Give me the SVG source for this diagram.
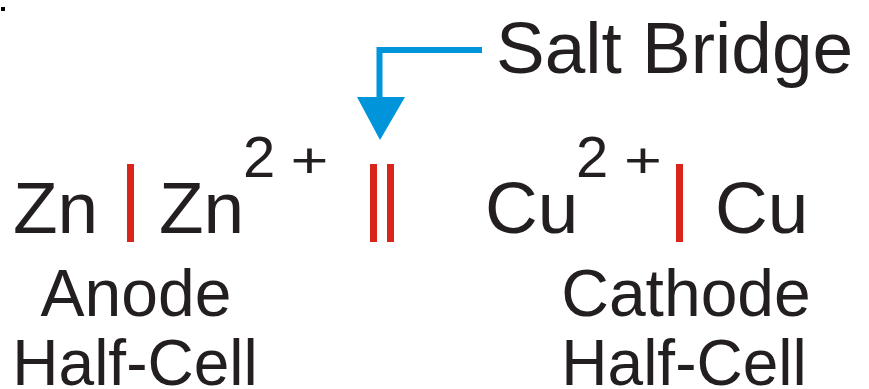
<svg xmlns="http://www.w3.org/2000/svg" width="869" height="389" viewBox="0 0 869 389">
<style>
.t{font-family:"Liberation Sans",Arial,sans-serif;fill:#231f20}
.big{font-size:73px}
.sup{font-size:58px}
.plus{font-size:50px;text-anchor:middle}
.lab{font-size:66px;text-anchor:middle}
.lab2{font-size:64px;text-anchor:middle}
.bar{fill:#da251d}
</style>
<rect x="1" y="7" width="4" height="4" fill="#000"/>
<g id="salt-bridge-label">
<text class="t big" x="496" y="73">Salt Bridge</text>
</g>
<g id="connectors">
<polyline points="482,50 379.5,50 379.5,98" fill="none" stroke="#0095da" stroke-width="6"/>
<polygon points="357,97 405,97 380,140" fill="#0095da"/>
</g>
<g id="anode">
<text class="t big" x="13" y="233">Zn</text>
<rect class="bar" x="127" y="164" width="7" height="78"/>
<text class="t big" x="159" y="233">Zn</text>
<text class="t sup" x="243" y="177">2</text>
<text class="t plus" transform="translate(309.5,176.5) scale(1.3,1)">+</text>
<text class="t lab" x="136" y="316">Anode</text>
<text class="t lab2" x="135" y="385">Half-Cell</text>
</g>
<g id="salt-bridge">
<rect class="bar" x="370" y="164" width="7" height="78"/>
<rect class="bar" x="387" y="164" width="7" height="78"/>
</g>
<g id="cathode">
<text class="t big" x="485" y="233">Cu</text>
<text class="t sup" x="576" y="177">2</text>
<text class="t plus" transform="translate(643,176.5) scale(1.3,1)">+</text>
<rect class="bar" x="676" y="164" width="7" height="78"/>
<text class="t big" x="715" y="233">Cu</text>
<text class="t lab" x="686" y="316">Cathode</text>
<text class="t lab2" x="684" y="385">Half-Cell</text>
</g>
</svg>
